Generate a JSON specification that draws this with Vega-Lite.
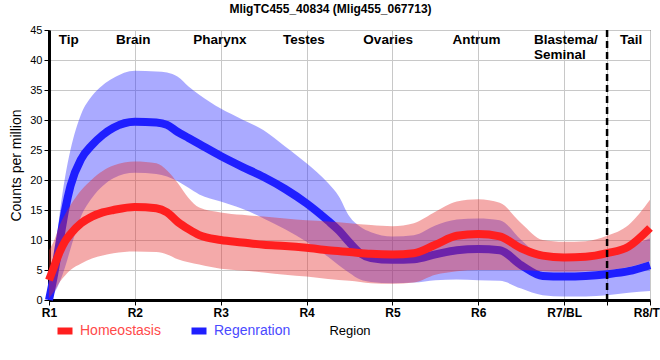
{
  "$schema": "https://vega.github.io/schema/vega-lite/v6.json",
  "width": 601,
  "height": 270,
  "autosize": "none",
  "padding": {"left": 49, "top": 30, "right": 10, "bottom": 60},
  "background": "white",
  "config": {
    "font": "Liberation Sans",
    "view": {"stroke": "black", "strokeWidth": 1},
    "axis": {
      "gridColor": "#c8c8c8",
      "gridWidth": 1,
      "domainColor": "black",
      "domainWidth": 3,
      "tickColor": "black",
      "tickSize": 5,
      "labelColor": "black",
      "titleColor": "black",
      "titleFontWeight": "normal"
    },
    "axisY": {"tickCount": 10}
  },
  "title": {
    "text": "MligTC455_40834 (Mlig455_067713)",
    "fontSize": 12,
    "fontWeight": "bold",
    "anchor": "middle",
    "dx": -19,
    "offset": 8,
    "color": "black"
  },
  "datasets": {
    "curves": [
      {"t": 1, "g": "Regenration", "m": 0, "lo": 0, "hi": 0.8},
      {"t": 1.0625, "g": "Regenration", "m": 4.5, "lo": 1.2, "hi": 6.5},
      {"t": 1.125, "g": "Regenration", "m": 9.8, "lo": 3, "hi": 14.5},
      {"t": 1.1875, "g": "Regenration", "m": 15.0, "lo": 5.5, "hi": 20.5},
      {"t": 1.25, "g": "Regenration", "m": 19.0, "lo": 8.5, "hi": 25.0},
      {"t": 1.375, "g": "Regenration", "m": 23.5, "lo": 14.0, "hi": 31.0},
      {"t": 1.5, "g": "Regenration", "m": 25.8, "lo": 17.0, "hi": 34.0},
      {"t": 1.625, "g": "Regenration", "m": 27.5, "lo": 19.0, "hi": 35.8},
      {"t": 1.75, "g": "Regenration", "m": 28.7, "lo": 20.3, "hi": 37.0},
      {"t": 2, "g": "Regenration", "m": 29.7, "lo": 21.2, "hi": 38.2},
      {"t": 2.25, "g": "Regenration", "m": 29.6, "lo": 21.0, "hi": 38.1},
      {"t": 2.375, "g": "Regenration", "m": 29.2, "lo": 20.6, "hi": 37.9},
      {"t": 2.5, "g": "Regenration", "m": 28.0, "lo": 19.8, "hi": 37.2},
      {"t": 2.625, "g": "Regenration", "m": 27.0, "lo": 18.7, "hi": 35.6},
      {"t": 2.75, "g": "Regenration", "m": 26.0, "lo": 17.6, "hi": 34.2},
      {"t": 3, "g": "Regenration", "m": 24.0, "lo": 16.4, "hi": 31.9},
      {"t": 3.25, "g": "Regenration", "m": 22.2, "lo": 15.2, "hi": 30.1},
      {"t": 3.5, "g": "Regenration", "m": 20.5, "lo": 13.6, "hi": 28.3},
      {"t": 3.75, "g": "Regenration", "m": 18.5, "lo": 11.8, "hi": 25.6},
      {"t": 4, "g": "Regenration", "m": 16.1, "lo": 9.7, "hi": 22.8},
      {"t": 4.25, "g": "Regenration", "m": 13.2, "lo": 7.2, "hi": 19.5},
      {"t": 4.375, "g": "Regenration", "m": 11.6, "lo": 5.8, "hi": 17.3},
      {"t": 4.5, "g": "Regenration", "m": 9.6, "lo": 4.5, "hi": 13.9},
      {"t": 4.625, "g": "Regenration", "m": 7.8, "lo": 3.4, "hi": 12.2},
      {"t": 4.75, "g": "Regenration", "m": 7.0, "lo": 3.0, "hi": 11.3},
      {"t": 5, "g": "Regenration", "m": 6.7, "lo": 2.8, "hi": 10.6},
      {"t": 5.25, "g": "Regenration", "m": 6.8, "lo": 2.9, "hi": 10.8},
      {"t": 5.5, "g": "Regenration", "m": 7.6, "lo": 3.3, "hi": 12.4},
      {"t": 5.75, "g": "Regenration", "m": 8.3, "lo": 3.4, "hi": 13.4},
      {"t": 6, "g": "Regenration", "m": 8.5, "lo": 3.3, "hi": 13.6},
      {"t": 6.25, "g": "Regenration", "m": 8.3, "lo": 3.2, "hi": 13.3},
      {"t": 6.5, "g": "Regenration", "m": 5.8, "lo": 1.9, "hi": 10.0},
      {"t": 6.75, "g": "Regenration", "m": 4.0, "lo": 0.8, "hi": 7.2},
      {"t": 7, "g": "Regenration", "m": 3.9, "lo": 0.6, "hi": 6.7},
      {"t": 7.25, "g": "Regenration", "m": 4.0, "lo": 0.6, "hi": 6.7},
      {"t": 7.5, "g": "Regenration", "m": 4.3, "lo": 0.8, "hi": 7.3},
      {"t": 7.75, "g": "Regenration", "m": 4.8, "lo": 1.2, "hi": 8.8},
      {"t": 8, "g": "Regenration", "m": 5.8, "lo": 1.5, "hi": 10.3},
      {"t": 1, "g": "Homeostasis", "m": 3.3, "lo": 0.3, "hi": 8.3},
      {"t": 1.0625, "g": "Homeostasis", "m": 5.7, "lo": 1.5, "hi": 10.0},
      {"t": 1.125, "g": "Homeostasis", "m": 8.0, "lo": 3.0, "hi": 12.5},
      {"t": 1.1875, "g": "Homeostasis", "m": 9.8, "lo": 4.1, "hi": 14.3},
      {"t": 1.25, "g": "Homeostasis", "m": 11.0, "lo": 5.0, "hi": 15.8},
      {"t": 1.375, "g": "Homeostasis", "m": 12.8, "lo": 6.1, "hi": 18.3},
      {"t": 1.5, "g": "Homeostasis", "m": 13.9, "lo": 6.9, "hi": 20.1},
      {"t": 1.625, "g": "Homeostasis", "m": 14.6, "lo": 7.4, "hi": 21.5},
      {"t": 1.75, "g": "Homeostasis", "m": 15.0, "lo": 7.8, "hi": 22.4},
      {"t": 2, "g": "Homeostasis", "m": 15.5, "lo": 8.1, "hi": 23.1},
      {"t": 2.25, "g": "Homeostasis", "m": 15.3, "lo": 8.0, "hi": 22.8},
      {"t": 2.375, "g": "Homeostasis", "m": 14.6, "lo": 7.6, "hi": 21.6},
      {"t": 2.5, "g": "Homeostasis", "m": 13.0, "lo": 6.8, "hi": 19.5},
      {"t": 2.625, "g": "Homeostasis", "m": 11.8, "lo": 6.3, "hi": 17.0},
      {"t": 2.75, "g": "Homeostasis", "m": 10.8, "lo": 5.9, "hi": 15.4},
      {"t": 3, "g": "Homeostasis", "m": 10.0, "lo": 5.2, "hi": 14.6},
      {"t": 3.25, "g": "Homeostasis", "m": 9.6, "lo": 4.9, "hi": 14.2},
      {"t": 3.5, "g": "Homeostasis", "m": 9.2, "lo": 4.6, "hi": 13.9},
      {"t": 3.75, "g": "Homeostasis", "m": 9.0, "lo": 4.2, "hi": 13.6},
      {"t": 4, "g": "Homeostasis", "m": 8.7, "lo": 3.9, "hi": 13.3},
      {"t": 4.25, "g": "Homeostasis", "m": 8.3, "lo": 3.5, "hi": 13.1},
      {"t": 4.5, "g": "Homeostasis", "m": 8.0, "lo": 3.2, "hi": 12.8},
      {"t": 4.75, "g": "Homeostasis", "m": 7.7, "lo": 2.8, "hi": 12.5},
      {"t": 5, "g": "Homeostasis", "m": 7.6, "lo": 2.7, "hi": 12.3},
      {"t": 5.25, "g": "Homeostasis", "m": 7.8, "lo": 2.9, "hi": 12.8},
      {"t": 5.5, "g": "Homeostasis", "m": 9.2, "lo": 4.2, "hi": 14.7},
      {"t": 5.75, "g": "Homeostasis", "m": 10.7, "lo": 4.8, "hi": 16.4},
      {"t": 6, "g": "Homeostasis", "m": 11.0, "lo": 5.0, "hi": 16.8},
      {"t": 6.25, "g": "Homeostasis", "m": 10.6, "lo": 5.0, "hi": 16.2},
      {"t": 6.5, "g": "Homeostasis", "m": 8.6, "lo": 5.0, "hi": 12.8},
      {"t": 6.75, "g": "Homeostasis", "m": 7.4, "lo": 4.8, "hi": 10.0},
      {"t": 7, "g": "Homeostasis", "m": 7.1, "lo": 4.7, "hi": 9.7},
      {"t": 7.25, "g": "Homeostasis", "m": 7.2, "lo": 4.8, "hi": 9.8},
      {"t": 7.5, "g": "Homeostasis", "m": 7.8, "lo": 5.0, "hi": 10.7},
      {"t": 7.75, "g": "Homeostasis", "m": 8.9, "lo": 5.5, "hi": 12.5},
      {"t": 8, "g": "Homeostasis", "m": 12.0, "lo": 6.5, "hi": 16.7}
    ],
    "regions": [
      {"t": 1.23, "name": "Tip"},
      {"t": 1.98, "name": "Brain"},
      {"t": 2.99, "name": "Pharynx"},
      {"t": 3.97, "name": "Testes"},
      {"t": 4.95, "name": "Ovaries"},
      {"t": 5.98, "name": "Antrum"},
      {"t": 7.78, "name": "Tail"}
    ],
    "regionsLeft": [
      {"t": 6.65, "name": "Blastema/\nSeminal"}
    ],
    "divider": [{"t": 7.5}]
  },
  "encoding": {
    "x": {
      "field": "t",
      "type": "quantitative",
      "scale": {"domain": [1, 8], "nice": false, "zero": false},
      "axis": {
        "values": [1, 2, 3, 4, 5, 6, 7, 7.5, 8],
        "labelExpr": "datum.value == 7.5 ? '' : ['R1','R2','R3','R4','R5','R6','R7/BL','R8/TL'][datum.value - 1]",
        "labelFontWeight": "bold",
        "labelFontSize": 12,
        "labelPadding": 2,
        "labelOverlap": false,
        "labelFlush": false,
        "labelBound": false,
        "title": "Region",
        "titleFontSize": 13,
        "titlePadding": 6
      }
    },
    "y": {
      "type": "quantitative",
      "scale": {"domain": [0, 45], "nice": false, "zero": true},
      "axis": {
        "values": [0, 5, 10, 15, 20, 25, 30, 35, 40, 45],
        "tickCount": 10,
        "labelOverlap": false,
        "labelFlush": false,
        "labelBound": false,
        "labelFontSize": 11,
        "labelPadding": 2,
        "title": "Counts per million",
        "titleFontSize": 14,
        "titlePadding": 6
      }
    }
  },
  "layer": [
    {
      "data": {"name": "curves"},
      "transform": [{"filter": "datum.g === 'Regenration'"}],
      "mark": {"type": "area", "color": "#2a2aff", "opacity": 0.4, "interpolate": "monotone"},
      "encoding": {
        "y": {"field": "lo"},
        "y2": {"field": "hi"}
      }
    },
    {
      "data": {"name": "curves"},
      "transform": [{"filter": "datum.g === 'Regenration'"}],
      "mark": {"type": "line", "strokeWidth": 8, "interpolate": "monotone"},
      "encoding": {
        "y": {"field": "m"},
        "color": {
          "field": "g",
          "type": "nominal",
          "scale": {"domain": ["Homeostasis", "Regenration"], "range": ["#ff1f1f", "#1f1fff"]},
          "legend": {
            "orient": "none",
            "legendX": 5,
            "legendY": 290,
            "direction": "horizontal",
            "title": null,
            "symbolType": "stroke",
            "symbolSize": 225,
            "symbolStrokeWidth": 7,
            "labelFontSize": 14,
            "labelOffset": 4,
            "columnPadding": 16,
            "labelLimit": 200,
            "encode": {
              "labels": {
                "update": {
                  "fill": {"signal": "datum.value === 'Homeostasis' ? '#ff4a4a' : '#4a4aff'"}
                }
              }
            }
          }
        }
      }
    },
    {
      "data": {"name": "curves"},
      "transform": [{"filter": "datum.g === 'Homeostasis'"}],
      "mark": {"type": "area", "color": "#e42a2a", "opacity": 0.4, "interpolate": "monotone"},
      "encoding": {
        "y": {"field": "lo"},
        "y2": {"field": "hi"}
      }
    },
    {
      "data": {"name": "curves"},
      "transform": [{"filter": "datum.g === 'Homeostasis'"}],
      "mark": {"type": "line", "strokeWidth": 8, "interpolate": "monotone"},
      "encoding": {
        "y": {"field": "m"},
        "color": {"field": "g", "type": "nominal"}
      }
    },
    {
      "data": {"name": "divider"},
      "mark": {"type": "rule", "color": "black", "strokeWidth": 2.5, "strokeDash": [7, 4]},
      "encoding": {"y": null}
    },
    {
      "data": {"name": "regions"},
      "mark": {"type": "text", "fontSize": 13.5, "fontWeight": "bold", "align": "center", "baseline": "alphabetic", "color": "black"},
      "encoding": {
        "y": {"datum": 42.7},
        "text": {"field": "name"}
      }
    },
    {
      "data": {"name": "regionsLeft"},
      "mark": {"type": "text", "fontSize": 13.5, "fontWeight": "bold", "align": "left", "baseline": "alphabetic", "color": "black", "lineBreak": "\n", "lineHeight": 15},
      "encoding": {
        "y": {"datum": 42.6},
        "text": {"field": "name"}
      }
    }
  ]
}
